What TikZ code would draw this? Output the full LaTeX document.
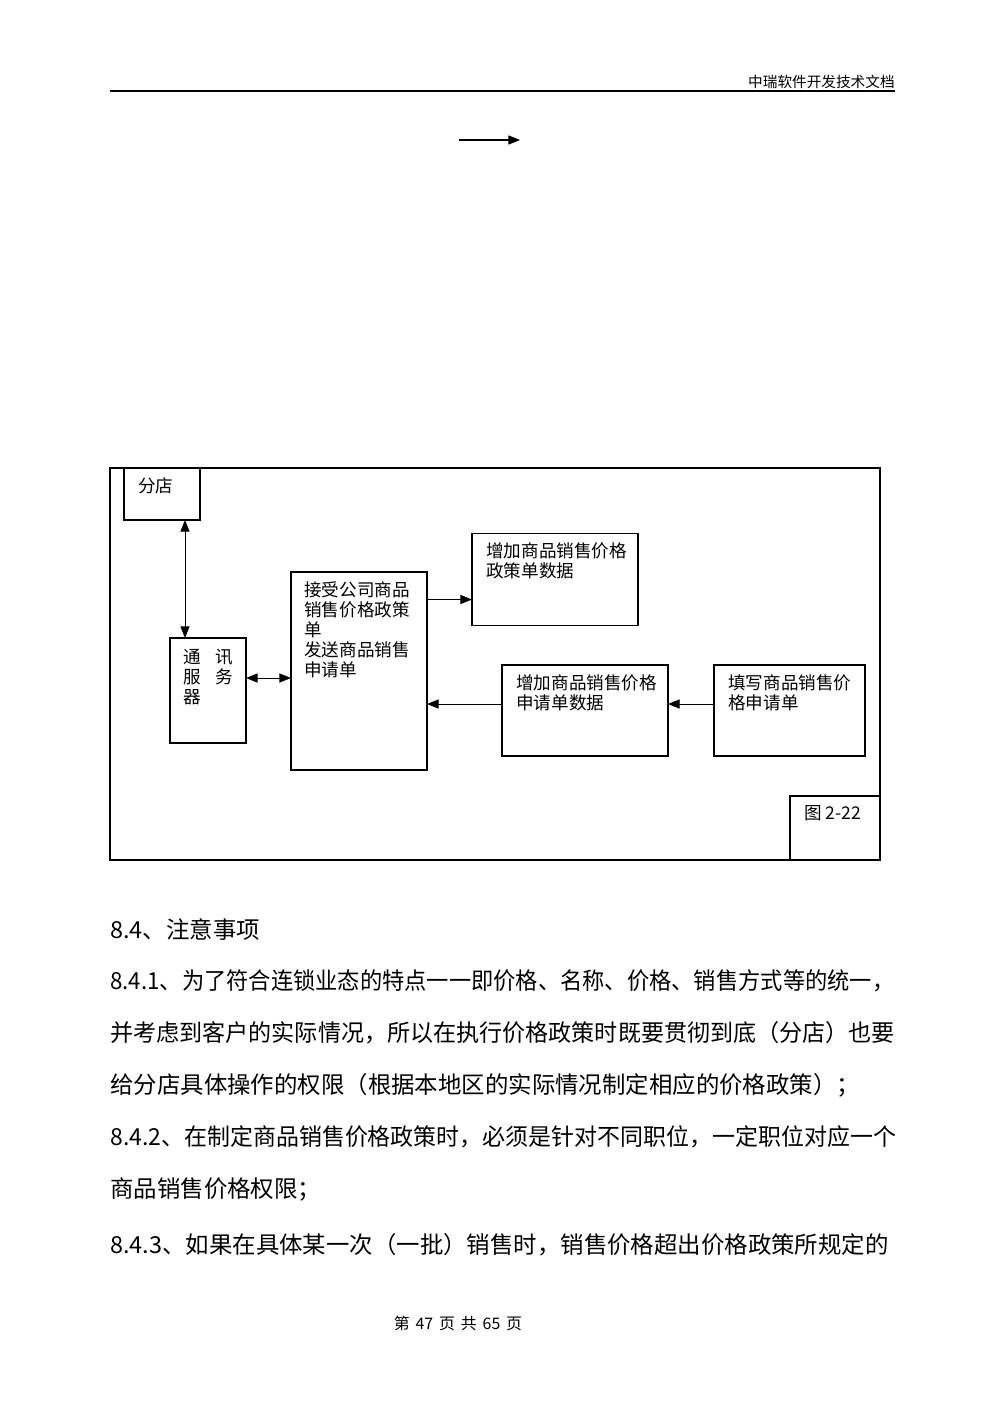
\documentclass[tikz,border=0pt]{standalone}
\usepackage{graphicx}
\usepackage{fontspec}
\newfontfamily\cjk{Noto Sans CJK SC}
\usetikzlibrary{arrows.meta}

\begin{document}
\begin{tikzpicture}[x=0.21mm, y=-0.21mm,
    box/.style={draw, line width=0.8pt, inner sep=0pt, outer sep=0pt},
    txt/.style={anchor=north west, inner sep=0pt, align=left, font=\cjk\fontsize{10.5}{12}\selectfont},
    body/.style={anchor=west, inner sep=0pt, font=\cjk\fontsize{14}{16}\selectfont},
    arr/.style={-{Triangle[length=7pt,width=5.5pt]}, line width=0.6pt},
    both/.style={{Triangle[length=7pt,width=5.5pt]}-{Triangle[length=7pt,width=5.5pt]}, line width=0.6pt}]

        \useasboundingbox (0,0) rectangle (1000,1415);

        % Page header
        \node[anchor=east, inner sep=0pt, font=\cjk\fontsize{8.75}{10}\selectfont] (head) at (895,82) {中瑞软件开发技术文档};
        \draw[line width=1.1pt] (110,91) -- (895,91);

        % Lone arrow under the header
        \coordinate (s1) at (459,140);
        \coordinate (s2) at (520,140);
        \draw[arr] (s1) -- (s2);

        % Figure frame
        \draw[line width=0.8pt] (110,468) rectangle (880,860);

        % Boxes
        \node[box, minimum width=76*0.21mm, minimum height=52*0.21mm] (fendian) at (162,494) {};
        \node[box, minimum width=76*0.21mm, minimum height=105*0.21mm] (txfwq) at (208,690.5) {};
        \node[box, minimum width=136*0.21mm, minimum height=198*0.21mm] (jieshou) at (359,671) {};
        \node[box, minimum width=166*0.21mm, minimum height=92*0.21mm] (zjzc) at (555,579.5) {};
        \node[box, minimum width=166*0.21mm, minimum height=91*0.21mm] (zjsq) at (585,710.5) {};
        \node[box, minimum width=151*0.21mm, minimum height=91*0.21mm] (txsq) at (789.5,710.5) {};
        \node[box, minimum width=90*0.21mm, minimum height=64*0.21mm] (tu) at (835,828) {};

        % Box texts
        \node[txt] (fendianT) at ([shift={(14,9)}]fendian.north west) {分店};
        \node[txt, text width=50*0.21mm] (txfwqT) at ([shift={(13,11)}]txfwq.north west) {通\hfill 讯\\服\hfill 务\\器};
        \node[txt] (jieshouT) at ([shift={(13,9)}]jieshou.north west) {接受公司商品\\销售价格政策\\单\\发送商品销售\\申请单};
        \node[txt] (zjzcT) at ([shift={(14,9)}]zjzc.north west) {增加商品销售价格\\政策单数据};
        \node[txt] (zjsqT) at ([shift={(14,9)}]zjsq.north west) {增加商品销售价格\\申请单数据};
        \node[txt] (txsqT) at ([shift={(14,9)}]txsq.north west) {填写商品销售价\\格申请单};
        \node[txt] (tuT) at ([shift={(14,9)}]tu.north west) {图 2-22};

        % Connectors
        \coordinate (fa) at ([shift={(-15,0)}]fendian.south east);
        \draw[both] (fa) -- (fa |- txfwq.north);
        \coordinate (ta) at ([shift={(0,-12.5)}]txfwq.east);
        \draw[both] (ta) -- (ta -| jieshou.west);
        \coordinate (ja) at ([shift={(0,20)}]zjzc.west);
        \draw[arr] (ja -| jieshou.east) -- (ja);
        \coordinate (qa) at ([shift={(0,-6.5)}]txsq.west);
        \draw[arr] (qa) -- (qa -| zjsq.east);
        \draw[arr] (qa -| zjsq.west) -- (qa -| jieshou.east);

        % Body text
        \node[body] (l0) at (110,930) {8.4、注意事项};
        \node[body] (l1) at (110,981) {\scalebox{0.95}[1]{8.4.1、为了符合连锁业态的特点一一即价格、名称、价格、销售方式等的统一，}};
        \node[body] (l2) at (110,1033) {\scalebox{0.985}[1]{并考虑到客户的实际情况，所以在执行价格政策时既要贯彻到底（分店）也要}};
        \node[body] (l3) at (110,1085) {给分店具体操作的权限（根据本地区的实际情况制定相应的价格政策）；};
        \node[body] (l4) at (110,1137) {\scalebox{0.98}[1]{8.4.2、在制定商品销售价格政策时，必须是针对不同职位，一定职位对应一个}};
        \node[body] (l5) at (110,1189) {商品销售价格权限；};
        \node[body] (l6) at (110,1245) {8.4.3、如果在具体某一次（一批）销售时，销售价格超出价格政策所规定的};

        % Page footer
        \node[inner sep=0pt, font=\cjk\fontsize{9.5}{11}\selectfont] (foot) at (458,1323) {第\hspace{3.5pt}47\hspace{3.5pt}页\hspace{3.5pt}共\hspace{3.5pt}65\hspace{3.5pt}页};

\end{tikzpicture}
\end{document}
